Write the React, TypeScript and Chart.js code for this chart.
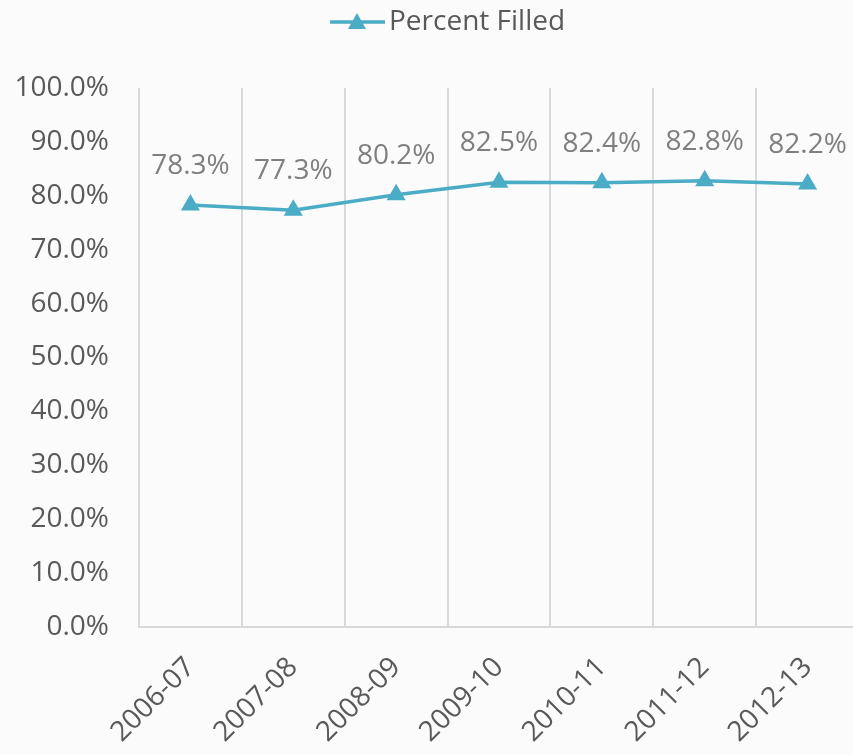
import React, { useEffect, useRef } from "react";
import { Chart, registerables } from "chart.js";

Chart.register(...registerables);

const categories = ["2006-07", "2007-08", "2008-09", "2009-10", "2010-11", "2011-12", "2012-13"];
const percentFilled = [78.3, 77.3, 80.2, 82.5, 82.4, 82.8, 82.2];
const seriesName = "Percent Filled";
const yMin = 0;
const yMax = 100;
const yStep = 10;

const LINE_COLOR = "#4BACC6";
const FONT = "'Open Sans', 'DejaVu Sans', sans-serif";
const FS = 28;

const bgPlugin = {
  id: "bg",
  beforeDraw(chart: any) {
    const ctx = chart.ctx;
    ctx.save();
    ctx.fillStyle = "#fbfbfb";
    ctx.fillRect(0, 0, chart.width, chart.height);
    ctx.restore();
  },
};

const legendPlugin = {
  id: "customLegend",
  afterDraw(chart: any) {
    const ctx = chart.ctx;
    ctx.save();
    const y = 22;
    ctx.strokeStyle = LINE_COLOR;
    ctx.lineWidth = 3.5;
    ctx.beginPath();
    ctx.moveTo(330, y);
    ctx.lineTo(385, y);
    ctx.stroke();
    ctx.fillStyle = LINE_COLOR;
    ctx.beginPath();
    ctx.moveTo(357, y - 9);
    ctx.lineTo(366, y + 7);
    ctx.lineTo(348, y + 7);
    ctx.closePath();
    ctx.fill();
    ctx.fillStyle = "#595959";
    ctx.font = `${FS}px ${FONT}`;
    ctx.textAlign = "left";
    ctx.textBaseline = "middle";
    ctx.fillText(seriesName, 389, y);
    ctx.restore();
  },
};

const dataLabelPlugin = {
  id: "dataLabels",
  afterDatasetsDraw(chart: any) {
    const ctx = chart.ctx;
    const meta = chart.getDatasetMeta(0);
    ctx.save();
    ctx.fillStyle = "#7f7f7f";
    ctx.font = `${FS}px ${FONT}`;
    ctx.textAlign = "center";
    ctx.textBaseline = "middle";
    meta.data.forEach((pt: any, i: number) => {
      const v = chart.data.datasets[0].data[i];
      ctx.fillText(v.toFixed(1) + "%", pt.x, pt.y - 39);
    });
    ctx.restore();
  },
};

export default function App() {
  const ref = useRef<HTMLCanvasElement | null>(null);
  useEffect(() => {
    if (!ref.current) return;
    const chart = new Chart(ref.current, {
      type: "line",
      data: {
        labels: categories,
        datasets: [
          {
            label: seriesName,
            data: percentFilled,
            borderColor: LINE_COLOR,
            backgroundColor: LINE_COLOR,
            borderWidth: 3.5,
            pointStyle: "triangle",
            pointRadius: 11,
            pointBorderWidth: 0,
            pointBackgroundColor: LINE_COLOR,
            tension: 0,
          },
        ],
      },
      plugins: [bgPlugin, legendPlugin, dataLabelPlugin],
      options: {
        responsive: false,
        animation: false,
        layout: { padding: { top: 88, right: 8, left: 0, bottom: 0 } },
        plugins: {
          legend: { display: false },
          tooltip: { enabled: false },
        },
        scales: {
          x: {
            type: "category",
            offset: true,
            grid: {
              offset: true,
              display: true,
              color: "#d9d9d9",
              lineWidth: 2,
              drawTicks: false,
            },
            border: { display: true, color: "#d9d9d9", width: 2 },
            ticks: {
              color: "#595959",
              font: { family: FONT, size: FS },
              maxRotation: 45,
              minRotation: 45,
              padding: 24,
            },
            afterFit(scale: any) {
              scale.height = 128;
            },
          },
          y: {
            min: yMin,
            max: yMax,
            grid: { display: false, drawTicks: false },
            border: { display: false },
            ticks: {
              stepSize: yStep,
              color: "#595959",
              font: { family: FONT, size: FS },
              padding: 30,
              callback: (v: any) => Number(v).toFixed(1) + "%",
            },
            afterFit(scale: any) {
              scale.width = 139;
            },
          },
        },
      },
    });
    return () => chart.destroy();
  }, []);

  return (
    <div style={{ position: "fixed", left: 0, top: 0, width: 853, height: 755, overflow: "hidden", background: "#fbfbfb" }}>
      <canvas ref={ref} width={870} height={755} style={{ width: 870, height: 755, display: "block" }} />
    </div>
  );
}
